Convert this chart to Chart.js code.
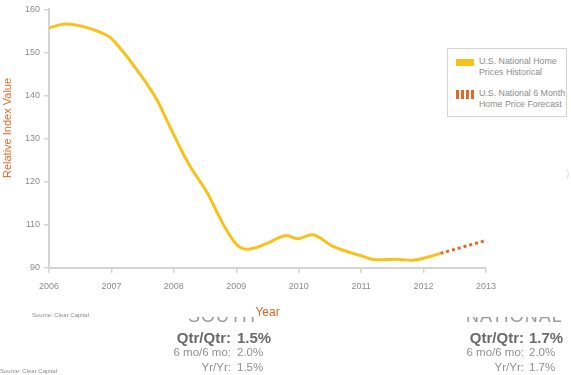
<!DOCTYPE html>
<html>
<head>
<meta charset="utf-8">
<script src="https://cdn.jsdelivr.net/npm/chart.js@4"></script>
<style>
  body { margin: 0; background: #fff; font-family: 'Liberation Sans', Arial, sans-serif; }
  #wrap { position: relative; width: 571px; height: 375px; overflow: hidden; background: #fff; }
  #chart { position: absolute; left: 0; top: 0; }
  .abs { position: absolute; white-space: nowrap; }
  #ytitle { position: absolute; left: 7px; top: 128px; transform: translate(-50%, -50%) rotate(-90deg); font-size: 11px; color: #e0692a; white-space: nowrap; }
  #legend { position: absolute; left: 447px; top: 48px; width: 118px; height: 67px; border: 1px solid #d4d4d4; background: #fff; }
  .leg-item { position: absolute; left: 8px; font-size: 8.8px; line-height: 11px; color: #8c8c8c; }
  .leg-item .sw { position: absolute; left: 0; width: 18px; }
  .leg-item .txt { position: absolute; left: 23px; white-space: nowrap; }
  .source { font-size: 6px; color: #8c8c8c; }
  .clip { position: absolute; overflow: hidden; height: 6px; }
  .clip span { position: relative; top: -10px; font-size: 18px; line-height: 18px; font-weight: 300; color: #9a9a9a; letter-spacing: 1px; }
  .big { font-size: 15px; font-weight: bold; color: #6a6a6a; }
  .small { font-size: 11.5px; color: #8f8f8f; }
</style>
</head>
<body>
<div id="wrap">
  <canvas id="chart" width="571" height="330"></canvas>
  <div id="ytitle">Relative Index Value</div>
  <div id="legend"></div>
  <div class="abs source" style="left:32px; top:312px;">Source: Clear Capital</div>
  <div class="abs source" style="left:0px; top:368px;">Source: Clear Capital</div>
  <div class="clip" style="left:188px; top:317px; width:70px;"><span>SOUTH</span></div>
  <div class="clip" style="left:466px; top:317px; width:100px;"><span>NATIONAL</span></div>
  <div id="stats"></div>
  <div class="abs" style="left:566px; top:168px; font-size:10px; color:#dddddd;">)</div>
</div>
<script>
// decimal years along the historical curve
const years = [2006.0, 2006.26, 2006.55, 2006.82, 2006.98, 2007.19, 2007.35, 2007.56,
  2007.73, 2007.89, 2008.07, 2008.26, 2008.53, 2008.71, 2008.90, 2009.06, 2009.22,
  2009.49, 2009.78, 2009.99, 2010.23, 2010.55, 2010.87, 2011.03, 2011.19, 2011.62,
  2011.83, 2012.06, 2012.27];
const historical = [155.7, 156.6, 156.0, 154.7, 153.5, 150.1, 147.1, 142.9,
  139.0, 134.2, 128.8, 123.6, 117.6, 112.4, 105.0, 99.6, 98.8,
  101.4, 105.0, 103.6, 105.4, 100.0, 96.8, 95.4, 94.0, 94.0,
  93.6, 95.0, 96.8];
const forecastYears = [2012.27, 2013.0];
const forecast = [96.8, 102.8];

const xTicks = [2006, 2007, 2008, 2009, 2010, 2011, 2012, 2013];
const yTicks = [90, 110, 120, 130, 140, 150, 160];

const legendLines = [
  ['U.S. National Home', 'Prices Historical'],
  ['U.S. National 6 Month', 'Home Price Forecast']
];

const southStats = [['Qtr/Qtr:', '1.5%'], ['6 mo/6 mo:', '2.0%'], ['Yr/Yr:', '1.5%']];
const nationalStats = [['Qtr/Qtr:', '1.7%'], ['6 mo/6 mo:', '2.0%'], ['Yr/Yr:', '1.7%']];

const yellow = '#f8c21c';
const orange = '#e0692a';
const axisGrey = '#d4d4d4';
const labelGrey = '#8c8c8c';

// the axis is broken below 110: 90..110 takes the room of one 10-step
function plotY(v) { return v >= 110 ? v : 110 - (110 - v) / 2; }
function unplotY(p) { return p >= 110 ? p : 110 - (110 - p) * 2; }

const histPts = years.map((x, i) => ({ x: x, y: plotY(historical[i]) }));
const fcPts = forecastYears.map((x, i) => ({ x: x, y: plotY(forecast[i]) }));

new Chart(document.getElementById('chart'), {
  type: 'line',
  data: {
    datasets: [{
      label: legendLines[0].join(' '),
      data: histPts,
      borderColor: yellow,
      borderWidth: 3,
      pointRadius: 0,
      tension: 0.4,
      fill: false
    }, {
      label: legendLines[1].join(' '),
      data: fcPts,
      borderColor: orange,
      borderWidth: 3,
      borderDash: [3, 3],
      pointRadius: 0,
      fill: false
    }]
  },
  options: {
    responsive: false,
    animation: false,
    layout: { padding: { left: 0, top: 5, right: 85, bottom: 0 } },
    plugins: { legend: { display: false }, tooltip: { enabled: false } },
    scales: {
      x: {
        type: 'linear',
        min: 2006,
        max: 2013,
        afterFit: s => { s.height = 62; },
        afterBuildTicks: s => { s.ticks = xTicks.map(v => ({ value: v })); },
        grid: { drawOnChartArea: false, drawTicks: true, tickLength: 5, color: axisGrey, lineWidth: 1.5 },
        border: { color: axisGrey, width: 2 },
        ticks: {
          color: labelGrey, font: { size: 9 }, padding: 8, maxRotation: 0, autoSkip: false,
          callback: v => String(v)
        },
        title: {
          display: true, text: 'Year', color: orange, font: { size: 12 },
          padding: { top: 0, bottom: 10 }
        }
      },
      y: {
        type: 'linear',
        min: plotY(yTicks[0]),
        max: yTicks[yTicks.length - 1],
        afterFit: s => { s.width = 49; },
        afterBuildTicks: s => { s.ticks = yTicks.map(v => ({ value: plotY(v) })); },
        grid: { drawOnChartArea: false, drawTicks: true, tickLength: 5, color: axisGrey, lineWidth: 1.5 },
        border: { color: axisGrey, width: 2 },
        ticks: {
          color: labelGrey, font: { size: 9 }, padding: 4, autoSkip: false,
          callback: v => String(Math.round(unplotY(v)))
        }
      }
    }
  }
});

// legend box
const legend = document.getElementById('legend');
legend.innerHTML = legendLines.map((lines, i) => {
  const top = i === 0 ? 7 : 39;
  const sw = i === 0
    ? `<div class="sw" style="top:3px;height:7px;background:${yellow}"></div>`
    : `<div class="sw" style="top:2px;height:9px;background:repeating-linear-gradient(90deg, ${orange} 0 3px, transparent 3px 5px)"></div>`;
  return `<div class="leg-item" style="top:${top}px">${sw}<div class="txt">${lines.join('<br>')}</div></div>`;
}).join('');

// stats blocks under the chart
function statBlock(rows, labRight, valLeft) {
  const tops = [329, 346, 361];
  return rows.map((r, i) => {
    const cls = i === 0 ? 'big' : 'small';
    return `<div class="abs ${cls}" style="right:${571 - labRight}px; top:${tops[i]}px">${r[0]}</div>` +
           `<div class="abs ${cls}" style="left:${valLeft}px; top:${tops[i]}px">${r[1]}</div>`;
  }).join('');
}
document.getElementById('stats').innerHTML =
  statBlock(southStats, 231, 237) + statBlock(nationalStats, 524, 529);
</script>
</body>
</html>
